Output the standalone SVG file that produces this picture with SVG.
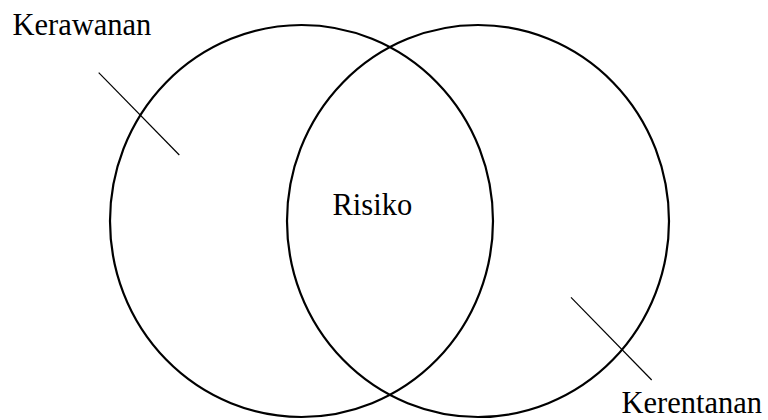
<svg xmlns="http://www.w3.org/2000/svg" width="768" height="420" viewBox="0 0 768 420">
<style>
.c{fill:none;stroke:#000;stroke-width:2.2}
.l{stroke:#000;stroke-width:1.2}
.t{font-family:"Liberation Serif","Times New Roman",serif;font-size:30.5px;fill:#000}
</style>
<rect width="768" height="420" fill="#fff"/>
<g id="kerawanan">
<ellipse class="c" cx="301.5" cy="221" rx="191.5" ry="196"/>
<text class="t" x="12.5" y="35">Kerawanan</text>
</g>
<g id="kerentanan">
<ellipse class="c" cx="478" cy="221" rx="191" ry="196"/>
<text class="t" x="621.5" y="413">Kerentanan</text>
</g>
<g id="risiko">
<text class="t" x="332.5" y="215">Risiko</text>
</g>
<g id="connectors">
<line class="l" x1="98.7" y1="72.7" x2="179.3" y2="155"/>
<line class="l" x1="571" y1="297.3" x2="651.7" y2="380"/>
</g>
</svg>
